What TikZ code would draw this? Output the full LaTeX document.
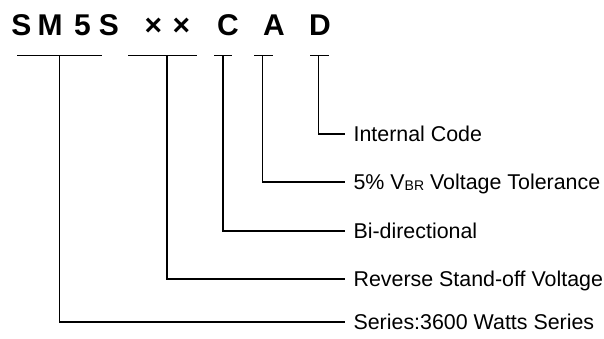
\documentclass[tikz,border=0pt]{standalone}
\usepackage{fontspec}
\setmainfont{Liberation Sans}
\usetikzlibrary{calc}

\begin{document}
\begin{tikzpicture}[x=1pt,y=-1pt,line width=1.1pt,
  code/.style={font=\fontsize{30}{30}\selectfont\bfseries, anchor=base, inner sep=0pt},
  lbl/.style={font=\fontsize{21.4}{21.4}\selectfont, anchor=west, inner xsep=8pt,
    inner ysep=0pt, text height=15.3pt, text depth=0pt}]
  \useasboundingbox (0,0) rectangle (604,338);
  % part number
  \foreach \x/\c/\n in {21.5/S/sa, 50/M/m, 82.5/5/five, 109/S/sb,
    153.5/×/xa, 181.5/×/xb, 228/C/c, 274/A/a, 320/D/d}
    \node[code] (\n) at (\x,35) {\c};
  % underlines
  \draw (17,55.5) -- (102,55.5) coordinate[pos=0.5] (u1);
  \draw (128,55.5) -- (197,55.5) coordinate[pos=0.565] (u2);
  \draw (214,55.5) -- (232,55.5) coordinate[pos=0.5] (u3);
  \draw (254,55.5) -- (273,55.5) coordinate[pos=0.47] (u4);
  \draw (310,55.5) -- (329,55.5) coordinate[pos=0.47] (u5);
  % meanings
  \node[lbl] (series) at (345,322) {Series:3600 Watts Series};
  \node[lbl] (vrwm) at (345,279) {Reverse Stand-off Voltage};
  \node[lbl] (bidir) at (345,231) {Bi-directional};
  \node[lbl] (tol) at (345,182) {5\% V\raisebox{-0.5pt}{\fontsize{14}{14}\selectfont BR} Voltage Tolerance};
  \node[lbl] (intcode) at (345,134) {Internal Code};
  % leaders
  \draw (u1) |- (series.west);
  \draw (u2) |- (vrwm.west);
  \draw (u3) |- (bidir.west);
  \draw (u4) |- (tol.west);
  \draw (u5) |- (intcode.west);
\end{tikzpicture}
\end{document}
